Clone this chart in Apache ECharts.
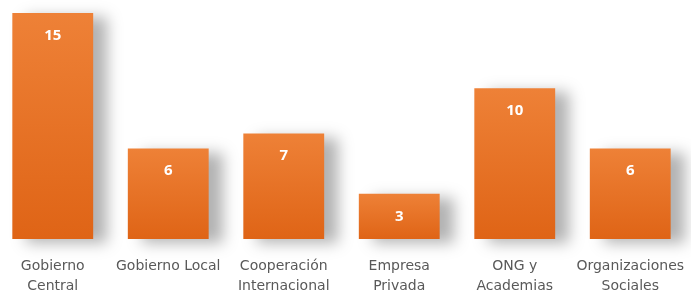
<!DOCTYPE html>
<html><head><meta charset="utf-8">
<script src="https://cdn.jsdelivr.net/npm/echarts@6/dist/echarts.min.js"></script>
<style>html,body{margin:0;padding:0;background:#fff}#c{width:691px;height:291px}</style>
</head><body><div id="c"></div>
<script>
const categories = ["Gobierno\nCentral","Gobierno Local","Cooperación\nInternacional","Empresa\nPrivada","ONG y\nAcademias","Organizaciones\nSociales"];
const values = [15,6,7,3,10,6];

const chart = echarts.init(document.getElementById('c'));
chart.setOption({
  animation:false,
  grid:{left:-5,right:3,top:13,bottom:52,containLabel:false,outerBoundsMode:'none'},
  xAxis:{type:'category',data:categories,axisLine:{show:false},axisTick:{show:false},
    axisLabel:{color:'#595959',fontFamily:'DejaVu Sans',fontSize:14,lineHeight:20,margin:17,interval:0}},
  yAxis:{type:'value',min:0,max:15,show:false,splitLine:{show:false}},
  series:[{type:'bar',data:values,barWidth:'70%',
    itemStyle:{color:new echarts.graphic.LinearGradient(0,0,0,1,[{offset:0,color:'#EE8137'},{offset:1,color:'#DF6416'}]),
      shadowColor:'rgba(0,0,0,0.3)',shadowBlur:14,shadowOffsetX:14,shadowOffsetY:4},
    label:{show:true,position:'insideTop',distance:15,color:'#fff',fontWeight:'bold',fontFamily:'Open Sans',fontSize:15}
  }]
});
</script></body></html>
